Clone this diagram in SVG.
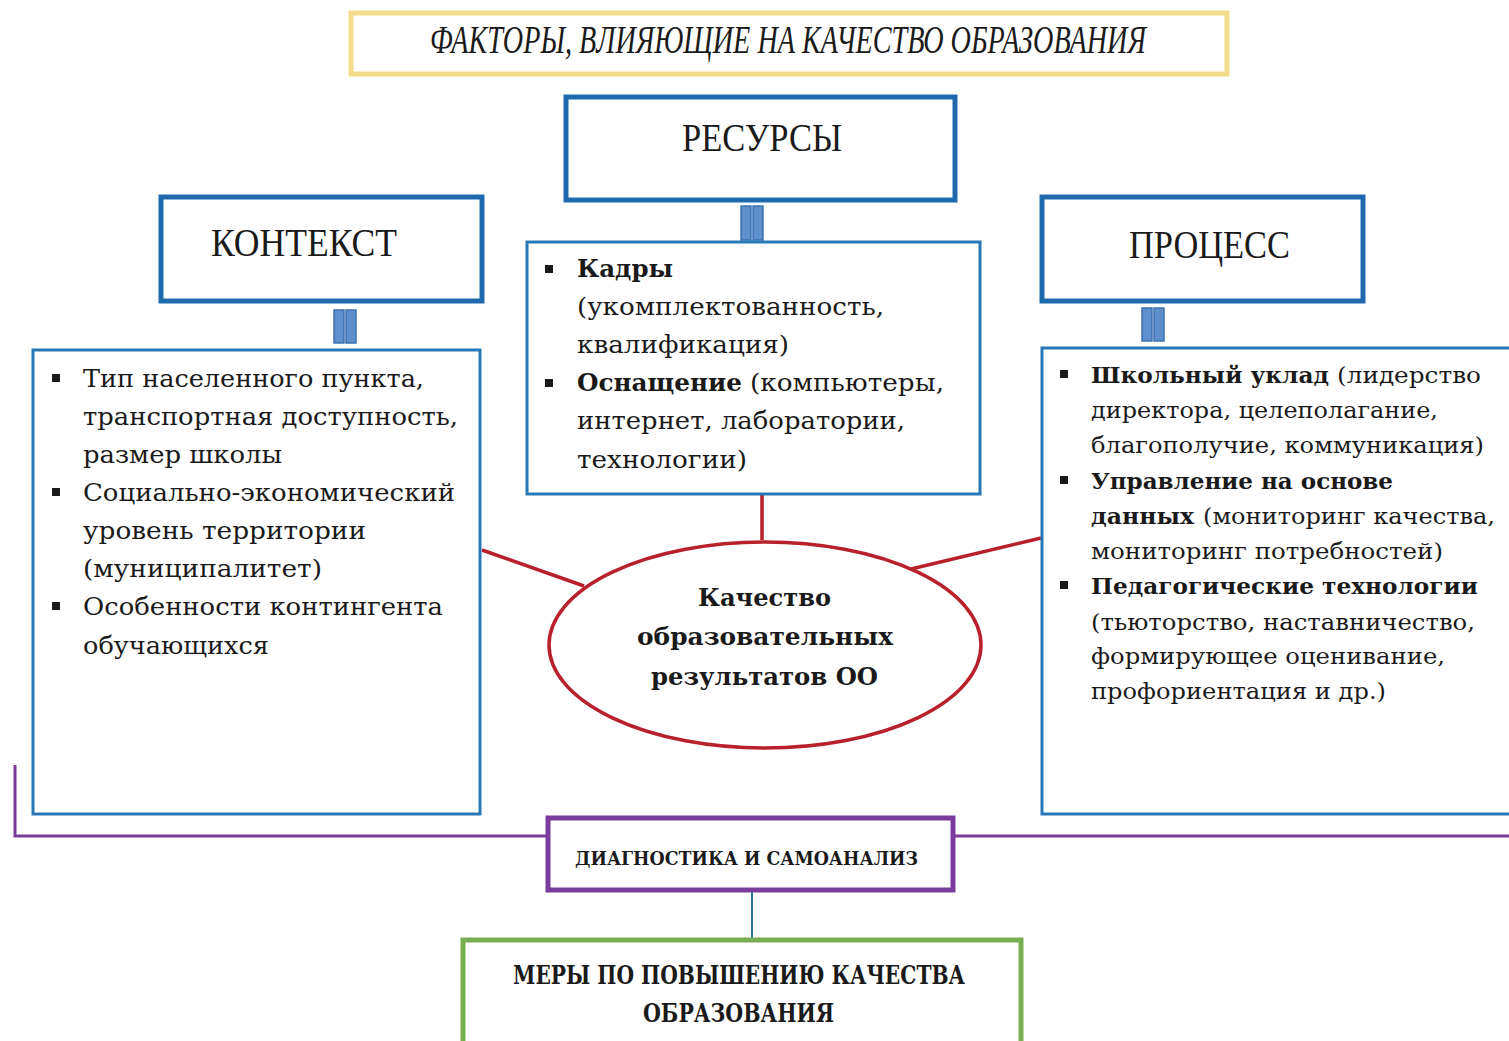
<svg xmlns="http://www.w3.org/2000/svg" width="1509" height="1041" viewBox="0 0 1509 1041">
<style>
.hdr{fill:#fff;stroke:#1f6aae;stroke-width:5}
.lst{fill:#fff;stroke:#2878b8;stroke-width:3}
.bar{fill:#5d8fcb;stroke:#3d72b2;stroke-width:1.5}
.t{font-family:"DejaVu Serif","Liberation Serif",serif;fill:#1a1a1a}
.b{font-weight:bold}
.h{font-family:"Liberation Serif","DejaVu Serif",serif;font-size:40px;fill:#1a1a1a}
.sq{fill:#1a1a1a}
.red{stroke:#b8202c;stroke-width:3.5;fill:none}
.pur{stroke:#7a3c9c;stroke-width:3;fill:none}
</style>
<rect width="1509" height="1041" fill="#fff"/>

<g id="title">
<rect x="351" y="13" width="876" height="61" fill="#fff" stroke="#f3dd8a" stroke-width="5"/>
<text x="430" y="53" class="h" font-style="italic" font-size="27" textLength="716" lengthAdjust="spacingAndGlyphs">ФАКТОРЫ, ВЛИЯЮЩИЕ НА КАЧЕСТВО ОБРАЗОВАНИЯ</text>
</g>

<g id="connectors">
<line x1="762" y1="494" x2="762" y2="540" class="red"/>
<line x1="482" y1="550" x2="584" y2="586" class="red"/>
<line x1="1041" y1="538" x2="911" y2="569" class="red"/>
<polyline points="15,765 15,836 547,836" class="pur"/>
<line x1="953" y1="836" x2="1509" y2="836" class="pur"/>
<line x1="752" y1="890" x2="752" y2="939" stroke="#2a7a9a" stroke-width="2"/>
<g id="bars-res"><rect x="741" y="206" width="10" height="34" class="bar"/><rect x="753" y="206" width="10" height="34" class="bar"/></g>
<g id="bars-ctx"><rect x="334" y="310" width="10" height="33" class="bar"/><rect x="346" y="310" width="10" height="33" class="bar"/></g>
<g id="bars-proc"><rect x="1142" y="308" width="10" height="33" class="bar"/><rect x="1154" y="308" width="10" height="33" class="bar"/></g>
</g>

<g id="resources">
<rect x="566" y="97" width="389" height="103" class="hdr"/>
<text x="682" y="151" class="h" textLength="160" lengthAdjust="spacingAndGlyphs">РЕСУРСЫ</text>
</g>

<g id="context">
<rect x="161" y="197" width="321" height="104" class="hdr"/>
<text x="211" y="256" class="h" textLength="186" lengthAdjust="spacingAndGlyphs">КОНТЕКСТ</text>
</g>

<g id="process">
<rect x="1042" y="197" width="321" height="104" class="hdr"/>
<text x="1129" y="258" class="h" textLength="161" lengthAdjust="spacingAndGlyphs">ПРОЦЕСС</text>
</g>

<g id="resources-list">
<rect x="527" y="242" width="453" height="252" class="lst"/>
<rect x="545" y="265" width="8" height="8" class="sq"/>
<rect x="545" y="379" width="8" height="8" class="sq"/>
<g class="t" font-size="25">
<text x="577" y="277" class="b" textLength="96" lengthAdjust="spacingAndGlyphs">Кадры</text>
<text x="577" y="315" textLength="307" lengthAdjust="spacingAndGlyphs">(укомплектованность,</text>
<text x="577" y="353" textLength="212" lengthAdjust="spacingAndGlyphs">квалификация)</text>
<text x="577" y="391" class="b" textLength="165" lengthAdjust="spacingAndGlyphs">Оснащение</text>
<text x="750" y="391" textLength="194" lengthAdjust="spacingAndGlyphs">(компьютеры,</text>
<text x="577" y="429" textLength="328" lengthAdjust="spacingAndGlyphs">интернет, лаборатории,</text>
<text x="577" y="468" textLength="170" lengthAdjust="spacingAndGlyphs">технологии)</text>
</g>
</g>

<g id="context-list">
<rect x="33" y="350" width="447" height="464" class="lst"/>
<rect x="52" y="374" width="8" height="8" class="sq"/>
<rect x="52" y="488" width="8" height="8" class="sq"/>
<rect x="52" y="602" width="8" height="8" class="sq"/>
<g class="t" font-size="25">
<text x="83" y="387" textLength="341" lengthAdjust="spacingAndGlyphs">Тип населенного пункта,</text>
<text x="83" y="425" textLength="375" lengthAdjust="spacingAndGlyphs">транспортная доступность,</text>
<text x="83" y="463" textLength="199" lengthAdjust="spacingAndGlyphs">размер школы</text>
<text x="83" y="501" textLength="372" lengthAdjust="spacingAndGlyphs">Социально-экономический</text>
<text x="83" y="539" textLength="283" lengthAdjust="spacingAndGlyphs">уровень территории</text>
<text x="83" y="577" textLength="239" lengthAdjust="spacingAndGlyphs">(муниципалитет)</text>
<text x="83" y="615" textLength="360" lengthAdjust="spacingAndGlyphs">Особенности контингента</text>
<text x="83" y="654" textLength="186" lengthAdjust="spacingAndGlyphs">обучающихся</text>
</g>
</g>

<g id="process-list">
<path d="M1509,348 H1042 V814 H1509" class="lst"/>
<rect x="1060" y="370" width="8" height="8" class="sq"/>
<rect x="1060" y="476" width="8" height="8" class="sq"/>
<rect x="1060" y="581" width="8" height="8" class="sq"/>
<g class="t" font-size="23">
<text x="1091" y="383" class="b" textLength="238" lengthAdjust="spacingAndGlyphs">Школьный уклад</text>
<text x="1337" y="383" textLength="144" lengthAdjust="spacingAndGlyphs">(лидерство</text>
<text x="1091" y="418" textLength="347" lengthAdjust="spacingAndGlyphs">директора, целеполагание,</text>
<text x="1091" y="453" textLength="393" lengthAdjust="spacingAndGlyphs">благополучие, коммуникация)</text>
<text x="1091" y="489" class="b" textLength="302" lengthAdjust="spacingAndGlyphs">Управление на основе</text>
<text x="1091" y="524" class="b" textLength="103" lengthAdjust="spacingAndGlyphs">данных</text>
<text x="1203" y="524" textLength="292" lengthAdjust="spacingAndGlyphs">(мониторинг качества,</text>
<text x="1091" y="559" textLength="352" lengthAdjust="spacingAndGlyphs">мониторинг потребностей)</text>
<text x="1091" y="594" class="b" textLength="387" lengthAdjust="spacingAndGlyphs">Педагогические технологии</text>
<text x="1091" y="630" textLength="384" lengthAdjust="spacingAndGlyphs">(тьюторство, наставничество,</text>
<text x="1091" y="664" textLength="354" lengthAdjust="spacingAndGlyphs">формирующее оценивание,</text>
<text x="1091" y="699" textLength="295" lengthAdjust="spacingAndGlyphs">профориентация и др.)</text>
</g>
</g>

<g id="quality">
<ellipse cx="765" cy="645" rx="216" ry="103" fill="#fff" class="red"/>
<g class="t b" font-size="25">
<text x="698" y="606" textLength="133" lengthAdjust="spacingAndGlyphs">Качество</text>
<text x="637" y="645" textLength="256" lengthAdjust="spacingAndGlyphs">образовательных</text>
<text x="651" y="685" textLength="227" lengthAdjust="spacingAndGlyphs">результатов ОО</text>
</g>
</g>

<g id="diagnostics">
<rect x="548" y="818" width="405" height="72" fill="#fff" stroke="#7a3c9c" stroke-width="5"/>
<text x="575" y="865" class="t b" font-size="19" textLength="343" lengthAdjust="spacingAndGlyphs">ДИАГНОСТИКА И САМОАНАЛИЗ</text>
</g>

<g id="measures">
<path d="M463,1041 V940 H1021 V1041" fill="#fff" stroke="#78ad50" stroke-width="5"/>
<text x="513" y="984" class="t b" font-size="26" textLength="452" lengthAdjust="spacingAndGlyphs">МЕРЫ ПО ПОВЫШЕНИЮ КАЧЕСТВА</text>
<text x="643" y="1022" class="t b" font-size="26" textLength="191" lengthAdjust="spacingAndGlyphs">ОБРАЗОВАНИЯ</text>
</g>
</svg>
